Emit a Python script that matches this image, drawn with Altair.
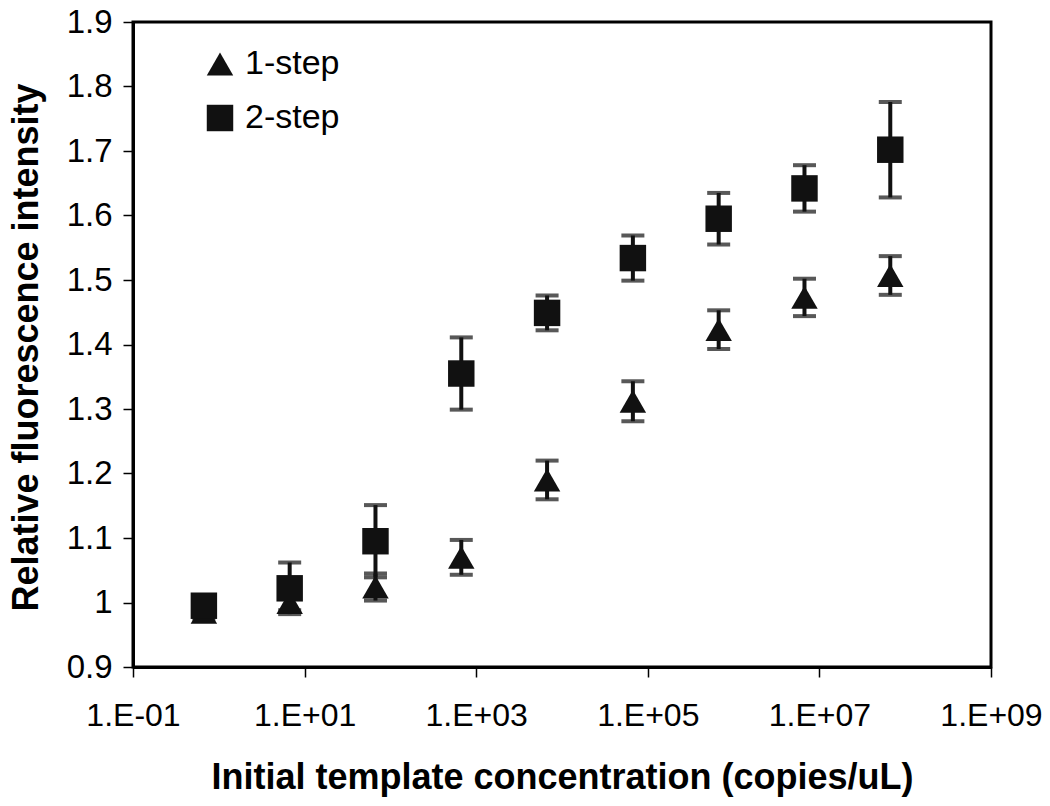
import json
import altair as alt
import pandas as pd

# ---- data ----
concentration = [0.67, 6.7, 67, 670, 6700, 67000, 670000, 6700000, 67000000]
one_step_mean = [0.985, 1.0, 1.024, 1.07, 1.19, 1.312, 1.423, 1.473, 1.507]
one_step_err = [0.01, 0.012, 0.021, 0.027, 0.03, 0.031, 0.03, 0.029, 0.03]
two_step_mean = [0.995, 1.022, 1.095, 1.355, 1.449, 1.534, 1.595, 1.642, 1.702]
two_step_err = [0.012, 0.04, 0.056, 0.056, 0.027, 0.035, 0.04, 0.036, 0.074]
series_names = ["1-step", "2-step"]
series_shapes = ["triangle-up", "square"]
x_tick_values = [0.1, 10, 1e3, 1e5, 1e7, 1e9]
x_tick_labels = ["1.E-01", "1.E+01", "1.E+03", "1.E+05", "1.E+07", "1.E+09"]
y_tick_values = [0.9, 1.0, 1.1, 1.2, 1.3, 1.4, 1.5, 1.6, 1.7, 1.8, 1.9]

rows = []
for name, means, errs in [
    (series_names[0], one_step_mean, one_step_err),
    (series_names[1], two_step_mean, two_step_err),
]:
    for c, m, e in zip(concentration, means, errs):
        rows.append({"series": name, "x": c, "y": m, "lo": m - e, "hi": m + e})
df = pd.DataFrame(rows)

FONT = "Liberation Sans"
INK = "#111111"

label_expr = f"{json.dumps(x_tick_labels)}[round((log(datum.value) / LN10 + 1) / 2)]"

x_enc = alt.X(
    "x:Q",
    scale=alt.Scale(type="log", domain=[0.1, 1e9], nice=False),
    axis=alt.Axis(
        values=x_tick_values,
        labelExpr=label_expr,
        title="Initial template concentration (copies/uL)",
        labelFlush=False,
        labelOverlap=False,
        labelFontSize=32,
        labelBaseline="alphabetic",
        labelPadding=48,
        titleY=121,
        titleBaseline="alphabetic",
    ),
)
y_enc = alt.Y(
    "y:Q",
    scale=alt.Scale(domain=[0.9, 1.9], nice=False, zero=False),
    axis=alt.Axis(
        values=y_tick_values,
        format="~g",
        title="Relative fluorescence intensity",
        labelFlush=False,
        labelOverlap=False,
        labelPadding=11,
        titleX=-96,
        titleY=325,
        titleAngle=270,
        titleBaseline="alphabetic",
    ),
)

base = alt.Chart(df)

bars = base.mark_rule(strokeWidth=4, color=INK).encode(
    x=x_enc, y=alt.Y("lo:Q"), y2="hi:Q"
)
caps_lo = base.mark_tick(orient="horizontal", size=23, thickness=4, color=INK).encode(
    x=x_enc, y=alt.Y("lo:Q")
)
caps_hi = base.mark_tick(orient="horizontal", size=23, thickness=4, color=INK).encode(
    x=x_enc, y=alt.Y("hi:Q")
)
points = base.mark_point(filled=True, size=700, opacity=1, color=INK, strokeWidth=0).encode(
    x=x_enc,
    y=y_enc,
    shape=alt.Shape(
        "series:N",
        scale=alt.Scale(domain=series_names, range=series_shapes),
        legend=alt.Legend(
            title=None,
            orient="none",
            legendX=70,
            legendY=25,
            padding=0,
            labelFont=FONT,
            labelFontSize=34,
            labelColor="black",
            labelOffset=8,
            rowPadding=20,
            symbolSize=700,
            symbolFillColor=INK,
            symbolStrokeWidth=0,
            symbolOpacity=1,
        ),
    ),
)

chart = (
    alt.layer(bars, caps_lo, caps_hi, points)
    .properties(
        width=858,
        height=645,
        autosize=alt.AutoSizeParams(type="none"),
        padding={"left": 125, "top": 14, "right": 51, "bottom": 131},
        background="white",
    )
    .configure_view(stroke="black", strokeWidth=3)
    .configure_axis(
        grid=False,
        domainColor="black",
        domainWidth=3,
        tickColor="black",
        tickWidth=1.5,
        tickSize=10,
        labelFont=FONT,
        labelFontSize=33,
        labelColor="black",
        titleFont=FONT,
        titleFontSize=36,
        titleFontWeight="bold",
        titleColor="black",
    )
)

chart.save("out.html", embed_options={"renderer": "svg", "actions": False})
